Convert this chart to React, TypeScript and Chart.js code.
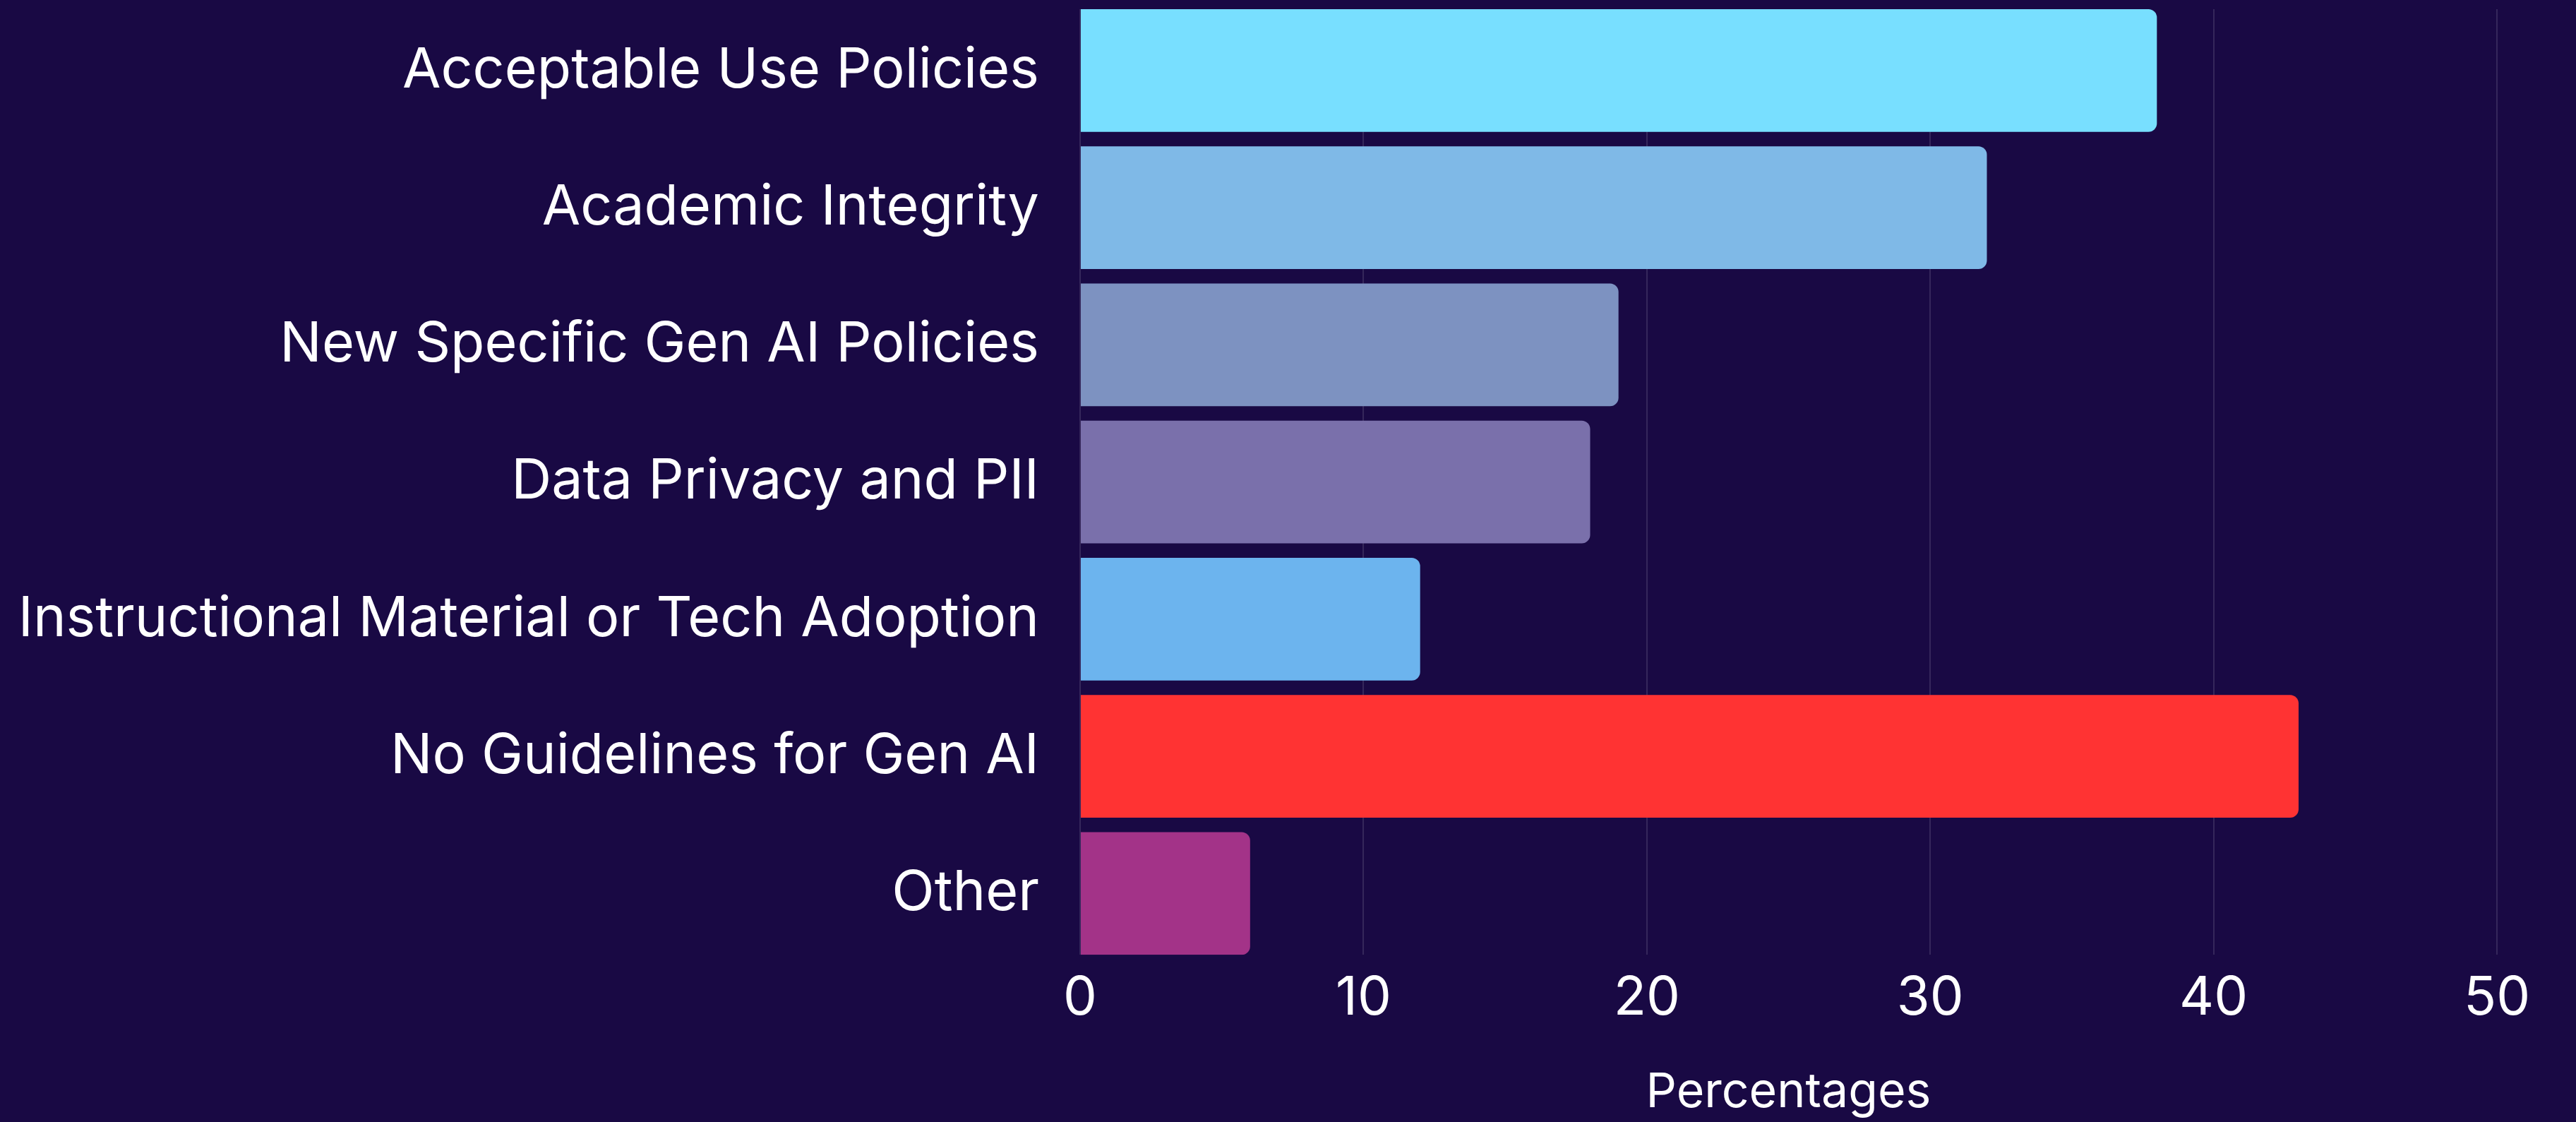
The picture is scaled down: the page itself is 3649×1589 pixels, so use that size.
import React, { useEffect, useRef } from "react";
import { Chart, registerables } from "chart.js";

Chart.register(...registerables);

const categories = [
  "Acceptable Use Policies",
  "Academic Integrity",
  "New Specific Gen AI Policies",
  "Data Privacy and PII",
  "Instructional Material or Tech Adoption",
  "No Guidelines for Gen AI",
  "Other",
];
const percentages = [38, 32, 19, 18, 12, 43, 6];
const barColors = ["#78DFFF", "#7FB9E7", "#7D92C1", "#7A70AB", "#6CB4EE", "#FF3333", "#A33388"];
const xAxisMin = 0;
const xAxisMax = 50;
const xAxisStep = 10;
const xAxisTitle = "Percentages";

const BG = "#190944";
const FONT = "Inter, 'Open Sans', sans-serif";

export default function App() {
  const ref = useRef<HTMLCanvasElement>(null);
  useEffect(() => {
    document.body.style.margin = "0";
    document.body.style.background = BG;
    const chart = new Chart(ref.current!, {
      type: "bar",
      data: {
        labels: categories,
        datasets: [
          {
            data: percentages,
            backgroundColor: barColors,
            borderRadius: 12,
            borderSkipped: "start",
            categoryPercentage: 0.9,
            barPercentage: 0.994,
          },
        ],
      },
      options: {
        indexAxis: "y",
        responsive: false,
        animation: false,
        layout: { padding: { top: 13, right: 112, bottom: 1, left: 0 } },
        plugins: { legend: { display: false }, tooltip: { enabled: false } },
        scales: {
          x: {
            min: xAxisMin,
            max: xAxisMax,
            ticks: { stepSize: xAxisStep, color: "#ffffff", font: { family: FONT, size: 76 }, padding: 16 },
            grid: { color: "rgba(255,255,255,0.12)", lineWidth: 2, drawTicks: false },
            border: { display: false },
            title: {
              display: true,
              text: xAxisTitle,
              color: "#ffffff",
              font: { family: FONT, size: 68 },
              padding: { top: 31, bottom: 0 },
            },
          },
          y: {
            ticks: { color: "#ffffff", font: { family: FONT, size: 79 }, padding: 58 },
            grid: { display: false, drawTicks: false },
            border: { display: false },
            afterFit: (s: any) => {
              s.width = 1530;
              s.paddingTop = 0;
              s.paddingBottom = 0;
            },
            afterBuildTicks: (s: any) => {
              s._startValue = -0.4473;
              s._valueRange = 6.8946;
            },
          },
        },
      },
    } as any);
    return () => chart.destroy();
  }, []);
  return (
    <canvas
      ref={ref}
      width={3649}
      height={1589}
      style={{ display: "block", width: 3649, height: 1589, background: BG }}
    />
  );
}
